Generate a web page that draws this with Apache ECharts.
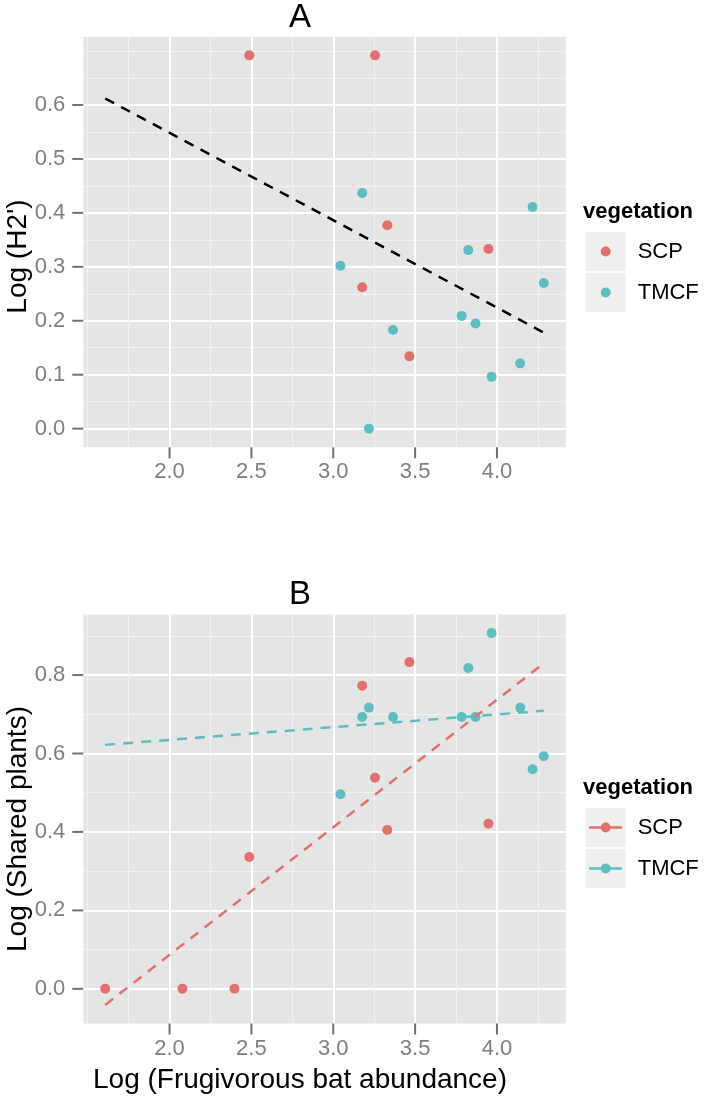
<!DOCTYPE html>
<html>
<head>
<meta charset="utf-8">
<script src="https://cdn.jsdelivr.net/npm/echarts@6/dist/echarts.min.js"></script>
<style>
html,body{margin:0;padding:0;background:#fff;}
#chart{width:704px;height:1098px;}
</style>
</head>
<body>
<div id="chart"></div>
<script>
// ---------- data ----------
const scpA_x  = [2.487, 3.255, 3.330, 3.177, 3.465, 3.948];
const scpA_y  = [0.692, 0.692, 0.377, 0.262, 0.134, 0.333];
const tmcfA_x = [3.177, 3.044, 3.365, 3.218, 3.825, 3.784, 3.869, 3.967, 4.142, 4.218, 4.286];
const tmcfA_y = [0.437, 0.302, 0.183, 0.000, 0.331, 0.209, 0.195, 0.096, 0.121, 0.411, 0.270];

const scpB_x  = [1.607, 2.079, 2.397, 2.487, 3.177, 3.255, 3.330, 3.465, 3.948];
const scpB_y  = [0.000, 0.000, 0.000, 0.336, 0.773, 0.538, 0.405, 0.833, 0.421];
const tmcfB_x = [3.044, 3.177, 3.218, 3.365, 3.825, 3.784, 3.869, 3.967, 4.142, 4.218, 4.286];
const tmcfB_y = [0.496, 0.693, 0.717, 0.693, 0.818, 0.693, 0.693, 0.907, 0.717, 0.560, 0.593];

// fitted (dashed) lines: end points
const fitA_x     = [1.607, 4.286];
const fitA_y     = [0.612, 0.178];
const fitSCP_x   = [1.607, 4.286];
const fitSCP_y   = [-0.041, 0.830];
const fitTMCF_x  = [1.607, 4.286];
const fitTMCF_y  = [0.622, 0.709];

// ticks
const xTicks       = [2.0, 2.5, 3.0, 3.5, 4.0];
const xMinor       = [1.5, 1.75, 2.25, 2.75, 3.25, 3.75, 4.25];
const yTicksA      = [0.0, 0.1, 0.2, 0.3, 0.4, 0.5, 0.6];
const yMinorA      = [0.05, 0.15, 0.25, 0.35, 0.45, 0.55, 0.65, 0.7];
const yTicksB      = [0.0, 0.2, 0.4, 0.6, 0.8];
const yMinorB      = [0.1, 0.3, 0.5, 0.7, 0.9];

const categories = ['SCP', 'TMCF'];
const colors = {SCP: '#E3716A', TMCF: '#5BBEC3'};

// ---------- helpers ----------
const zip = (xs, ys) => xs.map((x, i) => [x, ys[i]]);
const FONT = "'Liberation Sans', Arial, Helvetica, sans-serif";

function expand(lo, hi) { const d = (hi - lo) * 0.05; return [lo - d, hi + d]; }
const xRange  = expand(Math.min(...scpB_x, ...fitA_x), Math.max(...tmcfB_x, ...fitA_x));
const yRangeA = expand(Math.min(...scpA_y, ...tmcfA_y), Math.max(...scpA_y, ...tmcfA_y));
const yRangeB = expand(Math.min(...scpB_y, ...fitSCP_y), Math.max(...tmcfB_y, ...fitSCP_y));

const tickLabel = {fontSize: 22, color: '#7f7f7f', fontFamily: FONT, formatter: v => Number(v).toFixed(1)};
const TICK_LEN = 11, TICK_COLOR = '#707070';

function majorX(grid) {
  return {
    type: 'value', gridIndex: grid, min: xRange[0], max: xRange[1], position: 'bottom',
    axisLine: {show: false, onZero: false},
    axisTick: {show: false, customValues: xTicks},
    axisLabel: Object.assign({show: true, margin: 14, customValues: xTicks}, tickLabel),
    splitLine: {show: true, lineStyle: {color: '#ffffff', width: 2}}
  };
}
function minorX(grid) {
  return {
    type: 'value', gridIndex: grid, min: xRange[0], max: xRange[1], position: 'top',
    axisLine: {show: false, onZero: false},
    axisTick: {show: false, customValues: xMinor},
    axisLabel: {show: false, customValues: xMinor},
    splitLine: {show: true, lineStyle: {color: '#f2f2f2', width: 1}}
  };
}
function majorY(grid, rng, ticks) {
  return {
    type: 'value', gridIndex: grid, min: rng[0], max: rng[1], position: 'left',
    axisLine: {show: false, onZero: false},
    axisTick: {show: false, customValues: ticks},
    axisLabel: Object.assign({show: true, margin: 18, customValues: ticks}, tickLabel),
    splitLine: {show: true, lineStyle: {color: '#ffffff', width: 2}}
  };
}
function minorY(grid, rng, ticks) {
  return {
    type: 'value', gridIndex: grid, min: rng[0], max: rng[1], position: 'right',
    axisLine: {show: false, onZero: false},
    axisTick: {show: false, customValues: ticks},
    axisLabel: {show: false, customValues: ticks},
    splitLine: {show: true, lineStyle: {color: '#f2f2f2', width: 1}}
  };
}

function scatter(name, data, xi, yi) {
  return {
    type: 'scatter', name: name, xAxisIndex: xi, yAxisIndex: yi, data: data,
    symbolSize: 10, itemStyle: {color: colors[name], opacity: 1}, z: 3, silent: true
  };
}
function fitLine(name, data, xi, yi, color) {
  return {
    type: 'line', name: name, xAxisIndex: xi, yAxisIndex: yi, data: data,
    showSymbol: false, symbol: 'none', z: 4, silent: true,
    lineStyle: {color: color, width: 2.5, type: [10, 8]}
  };
}

// legend graphics
function legend(top, withLine) {
  const els = [];
  els.push({type: 'text', x: 583, y: top, style: {text: 'vegetation', font: 'bold 22px ' + FONT, fill: '#000', textVerticalAlign: 'middle'}});
  categories.forEach((c, i) => {
    const by = top + 20 + i * 41;
    els.push({type: 'rect', shape: {x: 585.7, y: by, width: 40.3, height: 39}, style: {fill: '#efefef'}});
    const cy = by + 19.5;
    if (withLine) {
      els.push({type: 'line', shape: {x1: 589, y1: cy, x2: 622, y2: cy}, style: {stroke: colors[c], lineWidth: 2.5}});
    }
    els.push({type: 'circle', shape: {cx: 605.7, cy: cy, r: 5}, style: {fill: colors[c]}});
    els.push({type: 'text', x: 637.7, y: cy, style: {text: c, font: '22px ' + FONT, fill: '#000', textVerticalAlign: 'middle'}});
  });
  return els;
}

const texts = [
  {type: 'text', x: 300, y: 18, style: {text: 'A', font: '33px ' + FONT, fill: '#000', textAlign: 'center', textVerticalAlign: 'middle'}},
  {type: 'text', x: 300, y: 595, style: {text: 'B', font: '33px ' + FONT, fill: '#000', textAlign: 'center', textVerticalAlign: 'middle'}},
  {type: 'text', x: 18.3, y: 256.5, rotation: Math.PI / 2, style: {text: "Log (H2')", font: '28px ' + FONT, fill: '#000', textAlign: 'center', textVerticalAlign: 'middle'}},
  {type: 'text', x: 18.3, y: 829, rotation: Math.PI / 2, style: {text: 'Log (Shared plants)', font: '28px ' + FONT, fill: '#000', textAlign: 'center', textVerticalAlign: 'middle'}},
  {type: 'text', x: 300, y: 1080, style: {text: 'Log (Frugivorous bat abundance)', font: '28px ' + FONT, fill: '#000', textAlign: 'center', textVerticalAlign: 'middle'}}
].concat(legend(212, false), legend(788, true));

const option = {
  animation: false,
  backgroundColor: '#ffffff',
  grid: [
    {left: 83.3, top: 36.7, width: 482.4, height: 410.6, show: true, backgroundColor: '#e5e5e5', borderWidth: 0, containLabel: false},
    {left: 83.3, top: 614.5, width: 482.4, height: 409, show: true, backgroundColor: '#e5e5e5', borderWidth: 0, containLabel: false}
  ],
  xAxis: [minorX(0), majorX(0), minorX(1), majorX(1)],
  yAxis: [minorY(0, yRangeA, yMinorA), majorY(0, yRangeA, yTicksA), minorY(1, yRangeB, yMinorB), majorY(1, yRangeB, yTicksB)],
  series: [
    scatter('SCP', zip(scpA_x, scpA_y), 1, 1),
    scatter('TMCF', zip(tmcfA_x, tmcfA_y), 1, 1),
    fitLine('fitA', zip(fitA_x, fitA_y), 1, 1, '#000000'),
    scatter('SCP', zip(scpB_x, scpB_y), 3, 3),
    scatter('TMCF', zip(tmcfB_x, tmcfB_y), 3, 3),
    fitLine('SCP', zip(fitSCP_x, fitSCP_y), 3, 3, colors.SCP),
    fitLine('TMCF', zip(fitTMCF_x, fitTMCF_y), 3, 3, colors.TMCF)
  ],
  graphic: texts
};

const chart = echarts.init(document.getElementById('chart'), null, {renderer: 'canvas'});
chart.setOption(option);

// tick marks outside the panels: pixel positions from the series' own coordinate systems
function toPx(seriesIndex, gridIndex, pt) {
  let p = null;
  try { p = chart.convertToPixel({seriesIndex: seriesIndex}, pt); } catch (e) { p = null; }
  if (!Array.isArray(p) || !isFinite(p[0]) || !isFinite(p[1])) {
    try { p = chart.convertToPixel({gridIndex: gridIndex}, pt); } catch (e) { p = null; }
  }
  return (Array.isArray(p) && isFinite(p[0]) && isFinite(p[1])) ? p : null;
}
const marks = [];
function addTicks(seriesIndex, gridIndex, yMin, yTicks) {
  xTicks.forEach(v => {
    const p = toPx(seriesIndex, gridIndex, [v, yMin]);
    if (p) marks.push({type: 'rect', z: 100, shape: {x: p[0] - 1, y: p[1], width: 2, height: TICK_LEN}, style: {fill: TICK_COLOR}});
  });
  yTicks.forEach(v => {
    const p = toPx(seriesIndex, gridIndex, [xRange[0], v]);
    if (p) marks.push({type: 'rect', z: 100, shape: {x: p[0] - TICK_LEN, y: p[1] - 1, width: TICK_LEN, height: 2}, style: {fill: TICK_COLOR}});
  });
}
addTicks(0, 0, yRangeA[0], yTicksA);
addTicks(3, 1, yRangeB[0], yTicksB);
chart.setOption({graphic: texts.concat(marks)});
</script>
</body>
</html>
